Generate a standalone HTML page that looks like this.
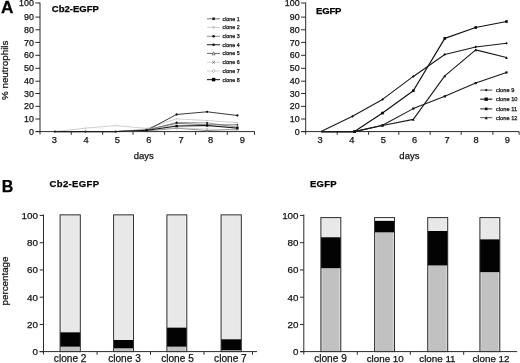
<!DOCTYPE html>
<html><head><meta charset="utf-8"><style>
html,body{margin:0;padding:0;background:#fff;}
svg{display:block;font-family:"Liberation Sans", sans-serif;filter:grayscale(1) blur(0.35px);}
</style></head><body>
<svg width="520" height="363" viewBox="0 0 520 363">
<rect width="520" height="363" fill="#fff"/>
<text x="1.00" y="12.75" font-size="16.4" text-anchor="start" font-weight="bold" fill="#000" stroke="#000" stroke-width="0.25" transform="translate(1 0) scale(1.05 1) translate(-1 0)">A</text>
<line x1="40.00" y1="2.50" x2="40.00" y2="134.50" stroke="#2a2a2a" stroke-width="1" />
<line x1="35.40" y1="131.60" x2="40.00" y2="131.60" stroke="#2a2a2a" stroke-width="1" />
<text x="33.90" y="134.70" font-size="8.9" text-anchor="end" font-weight="normal" fill="#111" stroke="#111" stroke-width="0.25" >0</text>
<line x1="35.40" y1="119.00" x2="40.00" y2="119.00" stroke="#2a2a2a" stroke-width="1" />
<text x="33.90" y="122.10" font-size="8.9" text-anchor="end" font-weight="normal" fill="#111" stroke="#111" stroke-width="0.25" >10</text>
<line x1="35.40" y1="106.35" x2="40.00" y2="106.35" stroke="#2a2a2a" stroke-width="1" />
<text x="33.90" y="109.45" font-size="8.9" text-anchor="end" font-weight="normal" fill="#111" stroke="#111" stroke-width="0.25" >20</text>
<line x1="35.40" y1="93.50" x2="40.00" y2="93.50" stroke="#2a2a2a" stroke-width="1" />
<text x="33.90" y="96.60" font-size="8.9" text-anchor="end" font-weight="normal" fill="#111" stroke="#111" stroke-width="0.25" >30</text>
<line x1="35.40" y1="81.20" x2="40.00" y2="81.20" stroke="#2a2a2a" stroke-width="1" />
<text x="33.90" y="84.30" font-size="8.9" text-anchor="end" font-weight="normal" fill="#111" stroke="#111" stroke-width="0.25" >40</text>
<line x1="35.40" y1="68.30" x2="40.00" y2="68.30" stroke="#2a2a2a" stroke-width="1" />
<text x="33.90" y="71.40" font-size="8.9" text-anchor="end" font-weight="normal" fill="#111" stroke="#111" stroke-width="0.25" >50</text>
<line x1="35.40" y1="55.30" x2="40.00" y2="55.30" stroke="#2a2a2a" stroke-width="1" />
<text x="33.90" y="58.40" font-size="8.9" text-anchor="end" font-weight="normal" fill="#111" stroke="#111" stroke-width="0.25" >60</text>
<line x1="35.40" y1="42.40" x2="40.00" y2="42.40" stroke="#2a2a2a" stroke-width="1" />
<text x="33.90" y="45.50" font-size="8.9" text-anchor="end" font-weight="normal" fill="#111" stroke="#111" stroke-width="0.25" >70</text>
<line x1="35.40" y1="29.80" x2="40.00" y2="29.80" stroke="#2a2a2a" stroke-width="1" />
<text x="33.90" y="32.90" font-size="8.9" text-anchor="end" font-weight="normal" fill="#111" stroke="#111" stroke-width="0.25" >80</text>
<line x1="35.40" y1="17.10" x2="40.00" y2="17.10" stroke="#2a2a2a" stroke-width="1" />
<text x="33.90" y="20.20" font-size="8.9" text-anchor="end" font-weight="normal" fill="#111" stroke="#111" stroke-width="0.25" >90</text>
<line x1="35.40" y1="3.00" x2="40.00" y2="3.00" stroke="#2a2a2a" stroke-width="1" />
<text x="33.90" y="6.10" font-size="8.9" text-anchor="end" font-weight="normal" fill="#111" stroke="#111" stroke-width="0.25" >100</text>
<line x1="35.80" y1="131.60" x2="254.50" y2="131.60" stroke="#2a2a2a" stroke-width="1" />
<line x1="71.30" y1="131.60" x2="71.30" y2="134.80" stroke="#2a2a2a" stroke-width="1" />
<line x1="102.70" y1="131.60" x2="102.70" y2="134.80" stroke="#2a2a2a" stroke-width="1" />
<line x1="133.00" y1="131.60" x2="133.00" y2="134.80" stroke="#2a2a2a" stroke-width="1" />
<line x1="164.60" y1="131.60" x2="164.60" y2="134.80" stroke="#2a2a2a" stroke-width="1" />
<line x1="195.60" y1="131.60" x2="195.60" y2="134.80" stroke="#2a2a2a" stroke-width="1" />
<line x1="227.30" y1="131.60" x2="227.30" y2="134.80" stroke="#2a2a2a" stroke-width="1" />
<line x1="254.50" y1="131.60" x2="254.50" y2="134.80" stroke="#2a2a2a" stroke-width="1" />
<text x="54.30" y="143.30" font-size="9.3" text-anchor="middle" font-weight="normal" fill="#111" stroke="#111" stroke-width="0.25" >3</text>
<text x="86.00" y="143.30" font-size="9.3" text-anchor="middle" font-weight="normal" fill="#111" stroke="#111" stroke-width="0.25" >4</text>
<text x="117.30" y="143.30" font-size="9.3" text-anchor="middle" font-weight="normal" fill="#111" stroke="#111" stroke-width="0.25" >5</text>
<text x="148.90" y="143.30" font-size="9.3" text-anchor="middle" font-weight="normal" fill="#111" stroke="#111" stroke-width="0.25" >6</text>
<text x="181.00" y="143.30" font-size="9.3" text-anchor="middle" font-weight="normal" fill="#111" stroke="#111" stroke-width="0.25" >7</text>
<text x="210.50" y="143.30" font-size="9.3" text-anchor="middle" font-weight="normal" fill="#111" stroke="#111" stroke-width="0.25" >8</text>
<text x="242.30" y="143.30" font-size="9.3" text-anchor="middle" font-weight="normal" fill="#111" stroke="#111" stroke-width="0.25" >9</text>
<text x="143.80" y="158.70" font-size="9.5" text-anchor="middle" font-weight="normal" fill="#111" stroke="#111" stroke-width="0.25" >days</text>
<text x="7.60" y="70.30" font-size="9.8" text-anchor="middle" font-weight="normal" fill="#111" stroke="#111" stroke-width="0.25" transform="rotate(-90 7.6 70.3)">% neutrophils</text>
<text x="51.80" y="12.00" font-size="9.5" text-anchor="start" font-weight="bold" fill="#000" stroke="#000" stroke-width="0.25" >Cb2-EGFP</text>
<polyline points="54.90,131.60 85.40,131.60 115.70,131.60 146.70,129.68 176.60,123.30 207.10,124.83 237.40,124.83" fill="none" stroke="#444" stroke-width="0.7" stroke-linejoin="round" />
<rect x="145.90" y="128.88" width="1.6" height="1.6" fill="#333"/>
<rect x="175.80" y="122.50" width="1.6" height="1.6" fill="#333"/>
<rect x="206.30" y="124.03" width="1.6" height="1.6" fill="#333"/>
<rect x="236.60" y="124.03" width="1.6" height="1.6" fill="#333"/>
<polyline points="54.90,131.60 85.40,128.15 115.70,125.60 146.70,128.41 176.60,118.83 207.10,120.49 237.40,122.66" fill="none" stroke="#bbb" stroke-width="0.7" stroke-linejoin="round" />
<circle cx="85.40" cy="128.15" r="0.7" fill="#bbb"/>
<circle cx="115.70" cy="125.60" r="0.7" fill="#bbb"/>
<circle cx="146.70" cy="128.41" r="0.7" fill="#bbb"/>
<circle cx="176.60" cy="118.83" r="0.7" fill="#bbb"/>
<circle cx="207.10" cy="120.49" r="0.7" fill="#bbb"/>
<circle cx="237.40" cy="122.66" r="0.7" fill="#bbb"/>
<polyline points="54.90,131.60 85.40,131.60 115.70,131.60 146.70,130.32 176.60,122.53 207.10,122.92 237.40,127.13" fill="none" stroke="#666" stroke-width="0.7" stroke-linejoin="round" />
<circle cx="146.70" cy="130.32" r="1.0" fill="#111"/>
<circle cx="176.60" cy="122.53" r="1.0" fill="#111"/>
<circle cx="207.10" cy="122.92" r="1.0" fill="#111"/>
<circle cx="237.40" cy="127.13" r="1.0" fill="#111"/>
<polyline points="54.90,131.60 85.40,131.60 115.70,131.60 146.70,130.32 176.60,114.49 207.10,111.81 237.40,115.51" fill="none" stroke="#222" stroke-width="0.9" stroke-linejoin="round" />
<circle cx="54.90" cy="131.60" r="1.15" fill="#111"/>
<circle cx="85.40" cy="131.60" r="1.15" fill="#111"/>
<circle cx="115.70" cy="131.60" r="1.15" fill="#111"/>
<circle cx="146.70" cy="130.32" r="1.15" fill="#111"/>
<circle cx="176.60" cy="114.49" r="1.15" fill="#111"/>
<circle cx="207.10" cy="111.81" r="1.15" fill="#111"/>
<circle cx="237.40" cy="115.51" r="1.15" fill="#111"/>
<polyline points="54.90,131.60 85.40,131.60 115.70,131.60 146.70,130.96 176.60,128.15 207.10,130.58 237.40,129.05" fill="none" stroke="#444" stroke-width="0.6" stroke-linejoin="round" />
<path d="M146.70,130.16 L147.50,131.76 L145.90,131.76 Z" fill="#fff" stroke="#444" stroke-width="0.6"/>
<path d="M176.60,127.35 L177.40,128.95 L175.80,128.95 Z" fill="#fff" stroke="#444" stroke-width="0.6"/>
<path d="M207.10,129.78 L207.90,131.38 L206.30,131.38 Z" fill="#fff" stroke="#444" stroke-width="0.6"/>
<path d="M237.40,128.25 L238.20,129.85 L236.60,129.85 Z" fill="#fff" stroke="#444" stroke-width="0.6"/>
<polyline points="54.90,131.60 85.40,131.60 115.70,131.60 146.70,129.05 176.60,125.21 207.10,126.49 237.40,127.13" fill="none" stroke="#aaa" stroke-width="0.6" stroke-linejoin="round" />
<path d="M145.90,128.25 L147.50,129.85 M147.50,128.25 L145.90,129.85" stroke="#999" stroke-width="0.6"/>
<path d="M175.80,124.41 L177.40,126.01 M177.40,124.41 L175.80,126.01" stroke="#999" stroke-width="0.6"/>
<path d="M206.30,125.69 L207.90,127.29 M207.90,125.69 L206.30,127.29" stroke="#999" stroke-width="0.6"/>
<path d="M236.60,126.33 L238.20,127.93 M238.20,126.33 L236.60,127.93" stroke="#999" stroke-width="0.6"/>
<polyline points="54.90,131.60 85.40,131.60 115.70,131.60 146.70,130.32 176.60,127.77 207.10,129.05 237.40,130.32" fill="none" stroke="#bbb" stroke-width="0.6" stroke-linejoin="round" />
<circle cx="146.70" cy="130.32" r="0.8" fill="#fff" stroke="#aaa" stroke-width="0.7"/>
<circle cx="176.60" cy="127.77" r="0.8" fill="#fff" stroke="#aaa" stroke-width="0.7"/>
<circle cx="207.10" cy="129.05" r="0.8" fill="#fff" stroke="#aaa" stroke-width="0.7"/>
<circle cx="237.40" cy="130.32" r="0.8" fill="#fff" stroke="#aaa" stroke-width="0.7"/>
<polyline points="54.90,131.60 85.40,131.60 115.70,131.60 146.70,130.32 176.60,126.11 207.10,125.47 237.40,128.15" fill="none" stroke="#111" stroke-width="1.0" stroke-linejoin="round" />
<rect x="145.60" y="129.22" width="2.2" height="2.2" fill="#000"/>
<rect x="175.50" y="125.01" width="2.2" height="2.2" fill="#000"/>
<rect x="206.00" y="124.37" width="2.2" height="2.2" fill="#000"/>
<rect x="236.30" y="127.05" width="2.2" height="2.2" fill="#000"/>
<line x1="207.00" y1="18.80" x2="220.00" y2="18.80" stroke="#555" stroke-width="0.8" />
<rect x="212.30" y="17.50" width="2.6" height="2.6" fill="#222"/>
<text x="222.50" y="20.85" font-size="5.3" text-anchor="start" font-weight="normal" fill="#111" stroke="#111" stroke-width="0.25" >clone 1</text>
<line x1="207.00" y1="27.40" x2="220.00" y2="27.40" stroke="#c4c4c4" stroke-width="0.8" />
<circle cx="213.60" cy="27.40" r="1.3" fill="#c8c8c8"/>
<text x="222.50" y="29.45" font-size="5.3" text-anchor="start" font-weight="normal" fill="#111" stroke="#111" stroke-width="0.25" >clone 2</text>
<line x1="207.00" y1="36.30" x2="220.00" y2="36.30" stroke="#666" stroke-width="0.7" />
<circle cx="213.60" cy="36.30" r="1.3" fill="#111"/>
<text x="222.50" y="38.35" font-size="5.3" text-anchor="start" font-weight="normal" fill="#111" stroke="#111" stroke-width="0.25" >clone 3</text>
<line x1="207.00" y1="44.70" x2="220.00" y2="44.70" stroke="#333" stroke-width="1.1" />
<circle cx="213.60" cy="44.70" r="1.3" fill="#111"/>
<text x="222.50" y="46.75" font-size="5.3" text-anchor="start" font-weight="normal" fill="#111" stroke="#111" stroke-width="0.25" >clone 4</text>
<line x1="207.00" y1="53.40" x2="220.00" y2="53.40" stroke="#444" stroke-width="0.8" />
<path d="M213.60,51.90 L215.10,54.90 L212.10,54.90 Z" fill="#fff" stroke="#333" stroke-width="0.6"/>
<text x="222.50" y="55.45" font-size="5.3" text-anchor="start" font-weight="normal" fill="#111" stroke="#111" stroke-width="0.25" >clone 5</text>
<line x1="207.00" y1="62.30" x2="220.00" y2="62.30" stroke="#c4c4c4" stroke-width="0.8" />
<path d="M212.20,60.90 L215.00,63.70 M215.00,60.90 L212.20,63.70" stroke="#555" stroke-width="0.6"/>
<text x="222.50" y="64.35" font-size="5.3" text-anchor="start" font-weight="normal" fill="#111" stroke="#111" stroke-width="0.25" >clone 6</text>
<line x1="207.00" y1="71.00" x2="220.00" y2="71.00" stroke="#c4c4c4" stroke-width="0.8" />
<path d="M213.60,69.40 L215.20,71.00 L213.60,72.60 L212.00,71.00 Z" fill="#fff" stroke="#999" stroke-width="0.6"/>
<text x="222.50" y="73.05" font-size="5.3" text-anchor="start" font-weight="normal" fill="#111" stroke="#111" stroke-width="0.25" >clone 7</text>
<line x1="207.00" y1="79.60" x2="220.00" y2="79.60" stroke="#333" stroke-width="1.2" />
<rect x="211.90" y="77.90" width="3.4" height="3.4" fill="#000"/>
<text x="222.50" y="81.65" font-size="5.3" text-anchor="start" font-weight="normal" fill="#111" stroke="#111" stroke-width="0.25" >clone 8</text>
<line x1="305.70" y1="2.50" x2="305.70" y2="134.50" stroke="#2a2a2a" stroke-width="1" />
<line x1="301.10" y1="131.60" x2="305.70" y2="131.60" stroke="#2a2a2a" stroke-width="1" />
<text x="299.60" y="134.70" font-size="8.9" text-anchor="end" font-weight="normal" fill="#111" stroke="#111" stroke-width="0.25" >0</text>
<line x1="301.10" y1="119.00" x2="305.70" y2="119.00" stroke="#2a2a2a" stroke-width="1" />
<text x="299.60" y="122.10" font-size="8.9" text-anchor="end" font-weight="normal" fill="#111" stroke="#111" stroke-width="0.25" >10</text>
<line x1="301.10" y1="106.35" x2="305.70" y2="106.35" stroke="#2a2a2a" stroke-width="1" />
<text x="299.60" y="109.45" font-size="8.9" text-anchor="end" font-weight="normal" fill="#111" stroke="#111" stroke-width="0.25" >20</text>
<line x1="301.10" y1="93.50" x2="305.70" y2="93.50" stroke="#2a2a2a" stroke-width="1" />
<text x="299.60" y="96.60" font-size="8.9" text-anchor="end" font-weight="normal" fill="#111" stroke="#111" stroke-width="0.25" >30</text>
<line x1="301.10" y1="81.20" x2="305.70" y2="81.20" stroke="#2a2a2a" stroke-width="1" />
<text x="299.60" y="84.30" font-size="8.9" text-anchor="end" font-weight="normal" fill="#111" stroke="#111" stroke-width="0.25" >40</text>
<line x1="301.10" y1="68.30" x2="305.70" y2="68.30" stroke="#2a2a2a" stroke-width="1" />
<text x="299.60" y="71.40" font-size="8.9" text-anchor="end" font-weight="normal" fill="#111" stroke="#111" stroke-width="0.25" >50</text>
<line x1="301.10" y1="55.30" x2="305.70" y2="55.30" stroke="#2a2a2a" stroke-width="1" />
<text x="299.60" y="58.40" font-size="8.9" text-anchor="end" font-weight="normal" fill="#111" stroke="#111" stroke-width="0.25" >60</text>
<line x1="301.10" y1="42.40" x2="305.70" y2="42.40" stroke="#2a2a2a" stroke-width="1" />
<text x="299.60" y="45.50" font-size="8.9" text-anchor="end" font-weight="normal" fill="#111" stroke="#111" stroke-width="0.25" >70</text>
<line x1="301.10" y1="29.80" x2="305.70" y2="29.80" stroke="#2a2a2a" stroke-width="1" />
<text x="299.60" y="32.90" font-size="8.9" text-anchor="end" font-weight="normal" fill="#111" stroke="#111" stroke-width="0.25" >80</text>
<line x1="301.10" y1="17.10" x2="305.70" y2="17.10" stroke="#2a2a2a" stroke-width="1" />
<text x="299.60" y="20.20" font-size="8.9" text-anchor="end" font-weight="normal" fill="#111" stroke="#111" stroke-width="0.25" >90</text>
<line x1="301.10" y1="3.00" x2="305.70" y2="3.00" stroke="#2a2a2a" stroke-width="1" />
<text x="299.60" y="6.10" font-size="8.9" text-anchor="end" font-weight="normal" fill="#111" stroke="#111" stroke-width="0.25" >100</text>
<line x1="301.30" y1="131.60" x2="519.20" y2="131.60" stroke="#2a2a2a" stroke-width="1" />
<line x1="337.20" y1="131.60" x2="337.20" y2="134.80" stroke="#2a2a2a" stroke-width="1" />
<line x1="368.60" y1="131.60" x2="368.60" y2="134.80" stroke="#2a2a2a" stroke-width="1" />
<line x1="398.80" y1="131.60" x2="398.80" y2="134.80" stroke="#2a2a2a" stroke-width="1" />
<line x1="430.20" y1="131.60" x2="430.20" y2="134.80" stroke="#2a2a2a" stroke-width="1" />
<line x1="461.20" y1="131.60" x2="461.20" y2="134.80" stroke="#2a2a2a" stroke-width="1" />
<line x1="492.90" y1="131.60" x2="492.90" y2="134.80" stroke="#2a2a2a" stroke-width="1" />
<line x1="519.10" y1="131.60" x2="519.10" y2="134.80" stroke="#2a2a2a" stroke-width="1" />
<text x="320.10" y="143.20" font-size="9.3" text-anchor="middle" font-weight="normal" fill="#111" stroke="#111" stroke-width="0.25" >3</text>
<text x="351.90" y="143.20" font-size="9.3" text-anchor="middle" font-weight="normal" fill="#111" stroke="#111" stroke-width="0.25" >4</text>
<text x="383.30" y="143.20" font-size="9.3" text-anchor="middle" font-weight="normal" fill="#111" stroke="#111" stroke-width="0.25" >5</text>
<text x="414.70" y="143.20" font-size="9.3" text-anchor="middle" font-weight="normal" fill="#111" stroke="#111" stroke-width="0.25" >6</text>
<text x="447.00" y="143.20" font-size="9.3" text-anchor="middle" font-weight="normal" fill="#111" stroke="#111" stroke-width="0.25" >7</text>
<text x="476.00" y="143.20" font-size="9.3" text-anchor="middle" font-weight="normal" fill="#111" stroke="#111" stroke-width="0.25" >8</text>
<text x="507.30" y="143.20" font-size="9.3" text-anchor="middle" font-weight="normal" fill="#111" stroke="#111" stroke-width="0.25" >9</text>
<text x="409.40" y="158.70" font-size="9.5" text-anchor="middle" font-weight="normal" fill="#111" stroke="#111" stroke-width="0.25" >days</text>
<text x="315.90" y="14.40" font-size="9.5" text-anchor="start" font-weight="bold" fill="#000" stroke="#000" stroke-width="0.25" letter-spacing="-0.1">EGFP</text>
<polyline points="321.00,131.60 352.50,116.28 382.50,99.42 413.30,76.43 444.80,54.47 475.70,46.93 506.50,43.23" fill="none" stroke="#1a1a1a" stroke-width="1.1" stroke-linejoin="round" />
<path d="M352.50,114.93 L353.85,116.28 L352.50,117.63 L351.15,116.28 Z" fill="#111"/>
<path d="M382.50,98.07 L383.85,99.42 L382.50,100.77 L381.15,99.42 Z" fill="#111"/>
<path d="M413.30,75.08 L414.65,76.43 L413.30,77.78 L411.95,76.43 Z" fill="#111"/>
<path d="M444.80,53.12 L446.15,54.47 L444.80,55.82 L443.45,54.47 Z" fill="#111"/>
<path d="M475.70,45.58 L477.05,46.93 L475.70,48.28 L474.35,46.93 Z" fill="#111"/>
<path d="M506.50,41.88 L507.85,43.23 L506.50,44.58 L505.15,43.23 Z" fill="#111"/>
<polyline points="321.00,131.60 354.50,131.60 382.50,113.08 413.30,90.74 444.80,38.38 475.70,27.52 506.50,21.52" fill="none" stroke="#111" stroke-width="1.2" stroke-linejoin="round" />
<rect x="353.20" y="130.30" width="2.6" height="2.6" fill="#000"/>
<rect x="381.20" y="111.78" width="2.6" height="2.6" fill="#000"/>
<rect x="412.00" y="89.44" width="2.6" height="2.6" fill="#000"/>
<rect x="443.50" y="37.08" width="2.6" height="2.6" fill="#000"/>
<rect x="474.40" y="26.22" width="2.6" height="2.6" fill="#000"/>
<rect x="505.20" y="20.22" width="2.6" height="2.6" fill="#000"/>
<polyline points="321.00,131.60 354.50,131.60 382.50,125.21 413.30,108.61 444.80,96.35 475.70,83.07 506.50,72.47" fill="none" stroke="#1a1a1a" stroke-width="1.1" stroke-linejoin="round" />
<rect x="353.40" y="130.50" width="2.2" height="2.2" fill="#111"/>
<rect x="381.40" y="124.11" width="2.2" height="2.2" fill="#111"/>
<rect x="412.20" y="107.51" width="2.2" height="2.2" fill="#111"/>
<rect x="443.70" y="95.25" width="2.2" height="2.2" fill="#111"/>
<rect x="474.60" y="81.97" width="2.2" height="2.2" fill="#111"/>
<rect x="505.40" y="71.37" width="2.2" height="2.2" fill="#111"/>
<polyline points="321.00,131.60 354.50,131.60 382.50,125.47 413.30,119.34 444.80,75.92 475.70,49.87 506.50,57.53" fill="none" stroke="#1a1a1a" stroke-width="1.1" stroke-linejoin="round" />
<path d="M354.50,130.25 L355.85,132.95 L353.15,132.95 Z" fill="#111"/>
<path d="M382.50,124.12 L383.85,126.82 L381.15,126.82 Z" fill="#111"/>
<path d="M413.30,117.99 L414.65,120.69 L411.95,120.69 Z" fill="#111"/>
<path d="M444.80,74.57 L446.15,77.27 L443.45,77.27 Z" fill="#111"/>
<path d="M475.70,48.52 L477.05,51.22 L474.35,51.22 Z" fill="#111"/>
<path d="M506.50,56.18 L507.85,58.88 L505.15,58.88 Z" fill="#111"/>
<line x1="480.20" y1="90.10" x2="492.30" y2="90.10" stroke="#222" stroke-width="0.8" />
<path d="M486.20,88.70 L487.60,90.10 L486.20,91.50 L484.80,90.10 Z" fill="#111"/>
<text x="496.00" y="92.10" font-size="5.7" text-anchor="start" font-weight="normal" fill="#111" stroke="#111" stroke-width="0.25" >clone 9</text>
<line x1="480.20" y1="99.20" x2="492.30" y2="99.20" stroke="#222" stroke-width="1.2" />
<rect x="484.50" y="97.50" width="3.4" height="3.4" fill="#111"/>
<text x="496.00" y="101.20" font-size="5.7" text-anchor="start" font-weight="normal" fill="#111" stroke="#111" stroke-width="0.25" >clone 10</text>
<line x1="480.20" y1="108.90" x2="492.30" y2="108.90" stroke="#222" stroke-width="1.0" />
<rect x="484.90" y="107.60" width="2.6" height="2.6" fill="#111"/>
<text x="496.00" y="110.90" font-size="5.7" text-anchor="start" font-weight="normal" fill="#111" stroke="#111" stroke-width="0.25" >clone 11</text>
<line x1="480.20" y1="117.70" x2="492.30" y2="117.70" stroke="#222" stroke-width="0.8" />
<path d="M486.20,116.20 L487.70,119.20 L484.70,119.20 Z" fill="#111"/>
<text x="496.00" y="119.70" font-size="5.7" text-anchor="start" font-weight="normal" fill="#111" stroke="#111" stroke-width="0.25" >clone 12</text>
<text x="1.80" y="191.50" font-size="16" text-anchor="start" font-weight="bold" fill="#000" stroke="#000" stroke-width="0.25" >B</text>
<text x="49.60" y="187.40" font-size="9.5" text-anchor="start" font-weight="bold" fill="#000" stroke="#000" stroke-width="0.25" letter-spacing="0.35">Cb2-EGFP</text>
<line x1="43.50" y1="214.50" x2="43.50" y2="354.50" stroke="#2a2a2a" stroke-width="1" />
<line x1="39.70" y1="351.70" x2="43.50" y2="351.70" stroke="#2a2a2a" stroke-width="1" />
<text x="37.90" y="355.10" font-size="9.8" text-anchor="end" font-weight="normal" fill="#111" stroke="#111" stroke-width="0.25" >0</text>
<line x1="39.70" y1="324.45" x2="43.50" y2="324.45" stroke="#2a2a2a" stroke-width="1" />
<text x="37.90" y="327.85" font-size="9.8" text-anchor="end" font-weight="normal" fill="#111" stroke="#111" stroke-width="0.25" >20</text>
<line x1="39.70" y1="297.20" x2="43.50" y2="297.20" stroke="#2a2a2a" stroke-width="1" />
<text x="37.90" y="300.60" font-size="9.8" text-anchor="end" font-weight="normal" fill="#111" stroke="#111" stroke-width="0.25" >40</text>
<line x1="39.70" y1="269.95" x2="43.50" y2="269.95" stroke="#2a2a2a" stroke-width="1" />
<text x="37.90" y="273.35" font-size="9.8" text-anchor="end" font-weight="normal" fill="#111" stroke="#111" stroke-width="0.25" >60</text>
<line x1="39.70" y1="242.70" x2="43.50" y2="242.70" stroke="#2a2a2a" stroke-width="1" />
<text x="37.90" y="246.10" font-size="9.8" text-anchor="end" font-weight="normal" fill="#111" stroke="#111" stroke-width="0.25" >80</text>
<line x1="39.70" y1="215.45" x2="43.50" y2="215.45" stroke="#2a2a2a" stroke-width="1" />
<text x="37.90" y="218.85" font-size="9.8" text-anchor="end" font-weight="normal" fill="#111" stroke="#111" stroke-width="0.25" >100</text>
<line x1="39.60" y1="351.60" x2="257.00" y2="351.60" stroke="#2a2a2a" stroke-width="1" />
<line x1="97.10" y1="351.60" x2="97.10" y2="354.80" stroke="#2a2a2a" stroke-width="1" />
<line x1="150.50" y1="351.60" x2="150.50" y2="354.80" stroke="#2a2a2a" stroke-width="1" />
<line x1="204.00" y1="351.60" x2="204.00" y2="354.80" stroke="#2a2a2a" stroke-width="1" />
<line x1="252.50" y1="351.60" x2="252.50" y2="354.80" stroke="#2a2a2a" stroke-width="1" />
<text x="8.00" y="281.00" font-size="9.8" text-anchor="middle" font-weight="normal" fill="#111" stroke="#111" stroke-width="0.25" transform="rotate(-90 8.0 281)">percentage</text>
<rect x="60.10" y="346.68" width="20.20" height="4.92" fill="#c1c1c1"/>
<rect x="60.70" y="346.68" width="1" height="4.92" fill="#fff" fill-opacity="0.4"/>
<rect x="78.70" y="346.68" width="1" height="4.92" fill="#fff" fill-opacity="0.4"/>
<rect x="60.10" y="332.18" width="20.20" height="14.50" fill="#030303"/>
<rect x="60.10" y="214.85" width="20.20" height="117.33" fill="#e8e8e8"/>
<rect x="60.70" y="214.85" width="1" height="117.33" fill="#fff" fill-opacity="0.4"/>
<rect x="78.70" y="214.85" width="1" height="117.33" fill="#fff" fill-opacity="0.4"/>
<rect x="60.10" y="214.85" width="20.20" height="136.75" fill="none" stroke="#2e2e2e" stroke-width="1"/>
<text x="70.15" y="362.20" font-size="10.1" text-anchor="middle" font-weight="normal" fill="#111" stroke="#111" stroke-width="0.25" >clone 2</text>
<rect x="113.60" y="348.32" width="19.90" height="3.28" fill="#c1c1c1"/>
<rect x="114.20" y="348.32" width="1" height="3.28" fill="#fff" fill-opacity="0.4"/>
<rect x="131.90" y="348.32" width="1" height="3.28" fill="#fff" fill-opacity="0.4"/>
<rect x="113.60" y="339.98" width="19.90" height="8.34" fill="#030303"/>
<rect x="113.60" y="214.85" width="19.90" height="125.13" fill="#e8e8e8"/>
<rect x="114.20" y="214.85" width="1" height="125.13" fill="#fff" fill-opacity="0.4"/>
<rect x="131.90" y="214.85" width="1" height="125.13" fill="#fff" fill-opacity="0.4"/>
<rect x="113.60" y="214.85" width="19.90" height="136.75" fill="none" stroke="#2e2e2e" stroke-width="1"/>
<text x="124.50" y="362.20" font-size="10.1" text-anchor="middle" font-weight="normal" fill="#111" stroke="#111" stroke-width="0.25" >clone 3</text>
<rect x="166.90" y="346.68" width="19.90" height="4.92" fill="#c1c1c1"/>
<rect x="167.50" y="346.68" width="1" height="4.92" fill="#fff" fill-opacity="0.4"/>
<rect x="185.20" y="346.68" width="1" height="4.92" fill="#fff" fill-opacity="0.4"/>
<rect x="166.90" y="327.40" width="19.90" height="19.28" fill="#030303"/>
<rect x="166.90" y="214.85" width="19.90" height="112.55" fill="#e8e8e8"/>
<rect x="167.50" y="214.85" width="1" height="112.55" fill="#fff" fill-opacity="0.4"/>
<rect x="185.20" y="214.85" width="1" height="112.55" fill="#fff" fill-opacity="0.4"/>
<rect x="166.90" y="214.85" width="19.90" height="136.75" fill="none" stroke="#2e2e2e" stroke-width="1"/>
<text x="177.50" y="362.20" font-size="10.1" text-anchor="middle" font-weight="normal" fill="#111" stroke="#111" stroke-width="0.25" >clone 5</text>
<rect x="221.10" y="350.23" width="20.20" height="1.37" fill="#c1c1c1"/>
<rect x="221.70" y="350.23" width="1" height="1.37" fill="#fff" fill-opacity="0.4"/>
<rect x="239.70" y="350.23" width="1" height="1.37" fill="#fff" fill-opacity="0.4"/>
<rect x="221.10" y="339.16" width="20.20" height="11.08" fill="#030303"/>
<rect x="221.10" y="214.85" width="20.20" height="124.31" fill="#e8e8e8"/>
<rect x="221.70" y="214.85" width="1" height="124.31" fill="#fff" fill-opacity="0.4"/>
<rect x="239.70" y="214.85" width="1" height="124.31" fill="#fff" fill-opacity="0.4"/>
<rect x="221.10" y="214.85" width="20.20" height="136.75" fill="none" stroke="#2e2e2e" stroke-width="1"/>
<text x="230.40" y="362.20" font-size="10.1" text-anchor="middle" font-weight="normal" fill="#111" stroke="#111" stroke-width="0.25" >clone 7</text>
<text x="310.00" y="187.00" font-size="9.5" text-anchor="start" font-weight="bold" fill="#000" stroke="#000" stroke-width="0.25" letter-spacing="0.2">EGFP</text>
<line x1="303.80" y1="214.50" x2="303.80" y2="354.50" stroke="#2a2a2a" stroke-width="1" />
<line x1="300.00" y1="351.70" x2="303.80" y2="351.70" stroke="#2a2a2a" stroke-width="1" />
<text x="298.50" y="355.10" font-size="9.8" text-anchor="end" font-weight="normal" fill="#111" stroke="#111" stroke-width="0.25" >0</text>
<line x1="300.00" y1="324.45" x2="303.80" y2="324.45" stroke="#2a2a2a" stroke-width="1" />
<text x="298.50" y="327.85" font-size="9.8" text-anchor="end" font-weight="normal" fill="#111" stroke="#111" stroke-width="0.25" >20</text>
<line x1="300.00" y1="297.20" x2="303.80" y2="297.20" stroke="#2a2a2a" stroke-width="1" />
<text x="298.50" y="300.60" font-size="9.8" text-anchor="end" font-weight="normal" fill="#111" stroke="#111" stroke-width="0.25" >40</text>
<line x1="300.00" y1="269.95" x2="303.80" y2="269.95" stroke="#2a2a2a" stroke-width="1" />
<text x="298.50" y="273.35" font-size="9.8" text-anchor="end" font-weight="normal" fill="#111" stroke="#111" stroke-width="0.25" >60</text>
<line x1="300.00" y1="242.70" x2="303.80" y2="242.70" stroke="#2a2a2a" stroke-width="1" />
<text x="298.50" y="246.10" font-size="9.8" text-anchor="end" font-weight="normal" fill="#111" stroke="#111" stroke-width="0.25" >80</text>
<line x1="300.00" y1="215.45" x2="303.80" y2="215.45" stroke="#2a2a2a" stroke-width="1" />
<text x="298.50" y="218.85" font-size="9.8" text-anchor="end" font-weight="normal" fill="#111" stroke="#111" stroke-width="0.25" >100</text>
<line x1="300.00" y1="351.60" x2="517.20" y2="351.60" stroke="#2a2a2a" stroke-width="1" />
<line x1="357.30" y1="351.60" x2="357.30" y2="354.80" stroke="#2a2a2a" stroke-width="1" />
<line x1="410.30" y1="351.60" x2="410.30" y2="354.80" stroke="#2a2a2a" stroke-width="1" />
<line x1="463.70" y1="351.60" x2="463.70" y2="354.80" stroke="#2a2a2a" stroke-width="1" />
<rect x="320.90" y="268.18" width="19.90" height="83.42" fill="#c1c1c1"/>
<rect x="321.50" y="268.18" width="1" height="83.42" fill="#fff" fill-opacity="0.4"/>
<rect x="339.20" y="268.18" width="1" height="83.42" fill="#fff" fill-opacity="0.4"/>
<rect x="320.90" y="237.14" width="19.90" height="31.04" fill="#030303"/>
<rect x="320.90" y="217.59" width="19.90" height="19.56" fill="#e8e8e8"/>
<rect x="321.50" y="217.59" width="1" height="19.56" fill="#fff" fill-opacity="0.4"/>
<rect x="339.20" y="217.59" width="1" height="19.56" fill="#fff" fill-opacity="0.4"/>
<rect x="320.90" y="217.59" width="19.90" height="134.01" fill="none" stroke="#2e2e2e" stroke-width="1"/>
<text x="330.50" y="362.20" font-size="10.1" text-anchor="middle" font-weight="normal" fill="#111" stroke="#111" stroke-width="0.25" >clone 9</text>
<rect x="374.60" y="232.35" width="19.90" height="119.25" fill="#c1c1c1"/>
<rect x="375.20" y="232.35" width="1" height="119.25" fill="#fff" fill-opacity="0.4"/>
<rect x="392.90" y="232.35" width="1" height="119.25" fill="#fff" fill-opacity="0.4"/>
<rect x="374.60" y="220.59" width="19.90" height="11.76" fill="#030303"/>
<rect x="374.60" y="217.59" width="19.90" height="3.01" fill="#fafafa"/>
<rect x="375.20" y="217.59" width="1" height="3.01" fill="#fff" fill-opacity="0.4"/>
<rect x="392.90" y="217.59" width="1" height="3.01" fill="#fff" fill-opacity="0.4"/>
<rect x="374.60" y="217.59" width="19.90" height="134.01" fill="none" stroke="#2e2e2e" stroke-width="1"/>
<text x="385.20" y="362.20" font-size="9.8" text-anchor="middle" font-weight="normal" fill="#111" stroke="#111" stroke-width="0.25" >clone 10</text>
<rect x="427.70" y="265.45" width="20.00" height="86.15" fill="#c1c1c1"/>
<rect x="428.30" y="265.45" width="1" height="86.15" fill="#fff" fill-opacity="0.4"/>
<rect x="446.10" y="265.45" width="1" height="86.15" fill="#fff" fill-opacity="0.4"/>
<rect x="427.70" y="230.85" width="20.00" height="34.60" fill="#030303"/>
<rect x="427.70" y="217.59" width="20.00" height="13.26" fill="#e8e8e8"/>
<rect x="428.30" y="217.59" width="1" height="13.26" fill="#fff" fill-opacity="0.4"/>
<rect x="446.10" y="217.59" width="1" height="13.26" fill="#fff" fill-opacity="0.4"/>
<rect x="427.70" y="217.59" width="20.00" height="134.01" fill="none" stroke="#2e2e2e" stroke-width="1"/>
<text x="437.40" y="362.20" font-size="9.8" text-anchor="middle" font-weight="normal" fill="#111" stroke="#111" stroke-width="0.25" >clone 11</text>
<rect x="479.90" y="272.15" width="19.90" height="79.45" fill="#c1c1c1"/>
<rect x="480.50" y="272.15" width="1" height="79.45" fill="#fff" fill-opacity="0.4"/>
<rect x="498.20" y="272.15" width="1" height="79.45" fill="#fff" fill-opacity="0.4"/>
<rect x="479.90" y="239.19" width="19.90" height="32.96" fill="#030303"/>
<rect x="479.90" y="217.59" width="19.90" height="21.61" fill="#e8e8e8"/>
<rect x="480.50" y="217.59" width="1" height="21.61" fill="#fff" fill-opacity="0.4"/>
<rect x="498.20" y="217.59" width="1" height="21.61" fill="#fff" fill-opacity="0.4"/>
<rect x="479.90" y="217.59" width="19.90" height="134.01" fill="none" stroke="#2e2e2e" stroke-width="1"/>
<text x="491.00" y="362.20" font-size="9.8" text-anchor="middle" font-weight="normal" fill="#111" stroke="#111" stroke-width="0.25" >clone 12</text>
</svg>
</body></html>
